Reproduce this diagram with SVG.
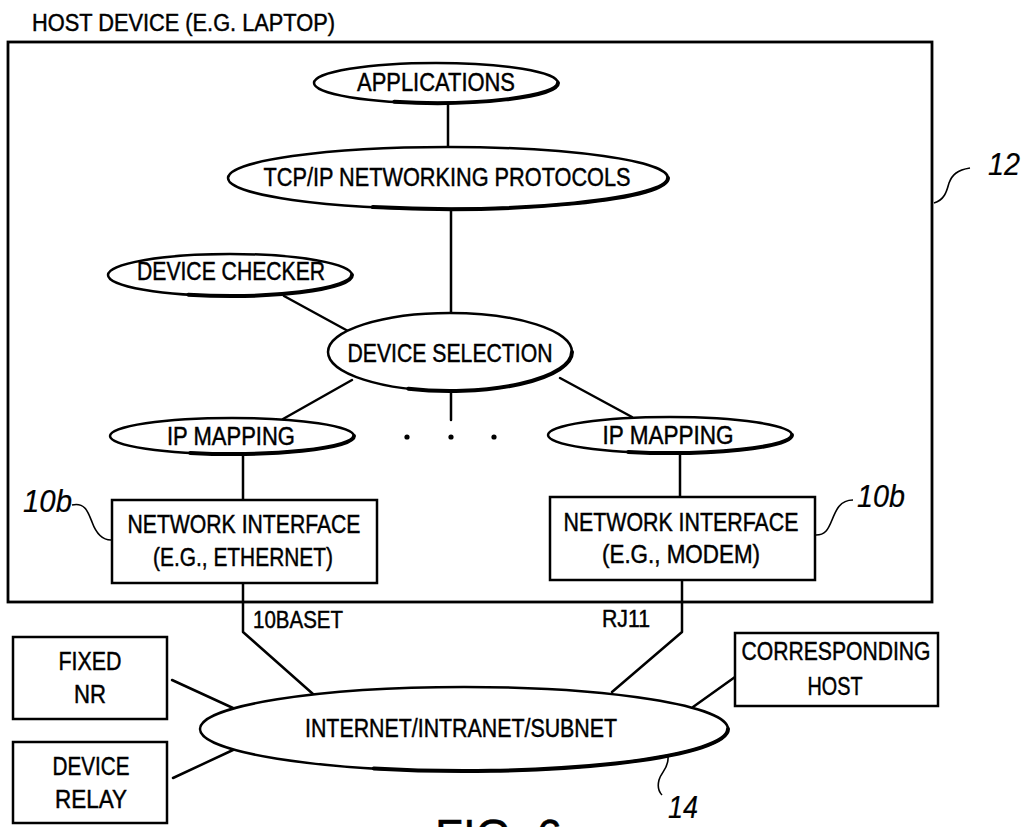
<svg xmlns="http://www.w3.org/2000/svg" width="1022" height="827" viewBox="0 0 1022 827">
<style>
.bg{fill:#fff}
.shape{fill:#fff;stroke:#000;stroke-width:2.5}
.shade{fill:none;stroke:#000;stroke-width:4;stroke-linecap:round}
.line{fill:none;stroke:#000;stroke-width:2.5;stroke-linecap:round;stroke-linejoin:round}
.lead{fill:none;stroke:#000;stroke-width:1.6}
text{font-family:"Liberation Sans",Arial,sans-serif;fill:#000;stroke:#000;stroke-width:0.45}
.t{font-size:25px;text-anchor:middle}
.s{font-size:23px}
.ref{font-size:31px;font-style:italic;stroke-width:0.2}
</style>
<rect class="bg" x="0" y="0" width="1022" height="827"/>
<g id="host-device">
  <rect x="8" y="42" width="924" height="560" fill="none" stroke="#000" stroke-width="2.8"/>
  <text x="32" y="31" style="font-size:23px" textLength="303" lengthAdjust="spacingAndGlyphs">HOST DEVICE (E.G. LAPTOP)</text>
  <path class="lead" d="M934,203 C945,200 947,190 949,183 C952,175 957,170 970,168"/>
  <text class="ref" x="988" y="175" textLength="32" lengthAdjust="spacingAndGlyphs">12</text>
</g>
<g id="connectors">
  <line class="line" x1="448" y1="103" x2="448" y2="147"/>
  <line class="line" x1="451" y1="209" x2="451" y2="313"/>
  <line class="line" x1="284" y1="296" x2="348" y2="331"/>
  <line class="line" x1="352" y1="380" x2="283" y2="419"/>
  <line class="line" x1="560" y1="378" x2="632" y2="417"/>
  <line class="line" x1="451" y1="391" x2="451" y2="420"/>
  <line class="line" x1="243" y1="453" x2="243" y2="500"/>
  <line class="line" x1="680" y1="452" x2="680" y2="497"/>
  <polyline class="line" points="243,583 243,632 313,694"/>
  <polyline class="line" points="682,580 682,632 612,692"/>
  <line class="line" x1="172" y1="680" x2="233" y2="708"/>
  <line class="line" x1="173" y1="778" x2="233" y2="750"/>
  <line class="line" x1="735" y1="677" x2="693" y2="707"/>
  <circle cx="407" cy="437" r="2.6"/>
  <circle cx="451" cy="437" r="2.6"/>
  <circle cx="494" cy="437" r="2.6"/>
  <text class="s" x="253" y="628" textLength="90" lengthAdjust="spacingAndGlyphs">10BASET</text>
  <text class="s" x="602" y="627" textLength="48" lengthAdjust="spacingAndGlyphs">RJ11</text>
</g>
<g id="applications">
  <ellipse class="shape" cx="436" cy="83" rx="122" ry="20"/>
  <path class="shade" d="M394.3,101.8 A122,20 0 0 0 558,83"/>
  <text class="t" x="436" y="91" textLength="158" lengthAdjust="spacingAndGlyphs">APPLICATIONS</text>
</g>
<g id="tcpip">
  <ellipse class="shape" cx="448" cy="178" rx="220" ry="31"/>
  <path class="shade" d="M372.8,207.1 A220,31 0 0 0 668,178"/>
  <text class="t" x="447" y="186" textLength="367" lengthAdjust="spacingAndGlyphs">TCP/IP NETWORKING PROTOCOLS</text>
</g>
<g id="device-checker">
  <ellipse class="shape" cx="230" cy="275" rx="122" ry="21"/>
  <path class="shade" d="M188.3,294.7 A122,21 0 0 0 352,275"/>
  <text class="t" x="231" y="280" textLength="188" lengthAdjust="spacingAndGlyphs">DEVICE CHECKER</text>
</g>
<g id="device-selection">
  <ellipse class="shape" cx="450" cy="352" rx="122" ry="39"/>
  <path class="shade" d="M408.3,388.7 A122,39 0 0 0 572,352"/>
  <text class="t" x="450" y="362" textLength="205" lengthAdjust="spacingAndGlyphs">DEVICE SELECTION</text>
</g>
<g id="ip-mapping-1">
  <ellipse class="shape" cx="232" cy="436" rx="122" ry="18"/>
  <path class="shade" d="M190.3,452.9 A122,18 0 0 0 354,436"/>
  <text class="t" x="231" y="445" textLength="128" lengthAdjust="spacingAndGlyphs">IP MAPPING</text>
</g>
<g id="ip-mapping-2">
  <ellipse class="shape" cx="670" cy="435" rx="122" ry="18"/>
  <path class="shade" d="M628.3,451.9 A122,18 0 0 0 792,435"/>
  <text class="t" x="668" y="444" textLength="131" lengthAdjust="spacingAndGlyphs">IP MAPPING</text>
</g>
<g id="net-if-ethernet">
  <rect class="shape" x="112" y="500" width="265" height="83"/>
  <text class="t" x="244" y="533" textLength="233" lengthAdjust="spacingAndGlyphs">NETWORK INTERFACE</text>
  <text class="t" x="243" y="566" textLength="180" lengthAdjust="spacingAndGlyphs">(E.G., ETHERNET)</text>
  <path class="lead" d="M72,505 C85,502 88,512 92,522 C96,533 102,540 111,540"/>
  <text class="ref" x="23" y="512" textLength="49" lengthAdjust="spacingAndGlyphs">10b</text>
</g>
<g id="net-if-modem">
  <rect class="shape" x="550" y="497" width="265" height="83"/>
  <text class="t" x="681" y="531" textLength="235" lengthAdjust="spacingAndGlyphs">NETWORK INTERFACE</text>
  <text class="t" x="681" y="563" textLength="158" lengthAdjust="spacingAndGlyphs">(E.G., MODEM)</text>
  <path class="lead" d="M853,500 C840,500 836,510 832,520 C828,530 825,535 816,535"/>
  <text class="ref" x="857" y="507" textLength="48" lengthAdjust="spacingAndGlyphs">10b</text>
</g>
<g id="internet">
  <ellipse class="shape" cx="464" cy="729" rx="264" ry="42"/>
  <path class="shade" d="M373.7,768.5 A264,42 0 0 0 728,729"/>
  <text class="t" x="461" y="737" textLength="312" lengthAdjust="spacingAndGlyphs">INTERNET/INTRANET/SUBNET</text>
  <path class="lead" d="M668,757 C669,768 661,772 659,780 C657,788 660,793 662,795"/>
  <text class="ref" x="668" y="818" textLength="30" lengthAdjust="spacingAndGlyphs">14</text>
</g>
<g id="fixed-nr">
  <rect class="shape" x="13" y="637" width="154" height="82"/>
  <text class="t" x="90" y="670" textLength="63" lengthAdjust="spacingAndGlyphs">FIXED</text>
  <text class="t" x="90" y="703" textLength="32" lengthAdjust="spacingAndGlyphs">NR</text>
</g>
<g id="device-relay">
  <rect class="shape" x="13" y="742" width="154" height="81"/>
  <text class="t" x="91" y="775" textLength="77" lengthAdjust="spacingAndGlyphs">DEVICE</text>
  <text class="t" x="91" y="808" textLength="72" lengthAdjust="spacingAndGlyphs">RELAY</text>
</g>
<g id="corresponding-host">
  <rect class="shape" x="735" y="633" width="203" height="73"/>
  <text class="t" x="836" y="660" textLength="189" lengthAdjust="spacingAndGlyphs">CORRESPONDING</text>
  <text class="t" x="835" y="695" textLength="55" lengthAdjust="spacingAndGlyphs">HOST</text>
</g>
<g id="caption">
  <text x="435" y="853" style="font-size:48px" textLength="127" lengthAdjust="spacingAndGlyphs">FIG. 6</text>
</g>
</svg>
